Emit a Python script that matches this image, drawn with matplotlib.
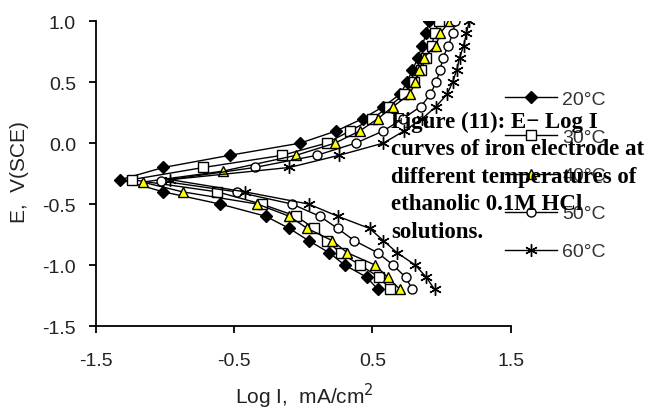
import numpy as np
import matplotlib
matplotlib.use("Agg")
import matplotlib.pyplot as plt

plt.rcParams['font.family'] = ['Liberation Sans', 'DejaVu Sans']

# potentials (V vs SCE) and log I (mA/cm2), anodic top -> Ecorr -> cathodic
e_20 = [1.0, 0.9, 0.8, 0.7, 0.6, 0.5, 0.4, 0.3, 0.2, 0.1, 0.0, -0.1, -0.2, -0.3,
        -0.4, -0.5, -0.6, -0.7, -0.8, -0.9, -1.0, -1.1, -1.2]
i_20 = [0.91, 0.89, 0.86, 0.83, 0.79, 0.75, 0.70, 0.58, 0.43, 0.24, -0.02, -0.53, -1.01, -1.32,
        -1.01, -0.60, -0.27, -0.10, 0.04, 0.19, 0.30, 0.46, 0.54]

e_30 = [1.0, 0.9, 0.8, 0.7, 0.6, 0.5, 0.4, 0.3, 0.2, 0.1, 0.0, -0.1, -0.2, -0.3,
        -0.4, -0.5, -0.6, -0.7, -0.8, -0.9, -1.0, -1.1, -1.2]
i_30 = [0.98, 0.95, 0.93, 0.89, 0.85, 0.80, 0.73, 0.62, 0.50, 0.34, 0.17, -0.15, -0.72, -1.24,
        -0.62, -0.30, -0.05, 0.08, 0.17, 0.27, 0.41, 0.55, 0.63]

e_40 = [1.0, 0.9, 0.8, 0.7, 0.6, 0.5, 0.4, 0.3, 0.2, 0.1, 0.0, -0.1, -0.23, -0.32,
        -0.4, -0.5, -0.6, -0.7, -0.8, -0.9, -1.0, -1.1, -1.2]
i_40 = [1.06, 0.99, 0.96, 0.87, 0.84, 0.81, 0.77, 0.65, 0.54, 0.41, 0.23, -0.05, -0.58, -1.16,
        -0.87, -0.33, -0.10, 0.03, 0.21, 0.32, 0.52, 0.61, 0.70]

e_50 = [1.0, 0.9, 0.8, 0.7, 0.6, 0.5, 0.4, 0.3, 0.2, 0.1, 0.0, -0.1, -0.2, -0.31,
        -0.4, -0.5, -0.6, -0.7, -0.8, -0.9, -1.0, -1.1, -1.2]
i_50 = [1.10, 1.08, 1.05, 1.01, 0.99, 0.96, 0.92, 0.85, 0.72, 0.58, 0.38, 0.10, -0.35, -1.03,
        -0.48, -0.08, 0.12, 0.25, 0.37, 0.54, 0.65, 0.74, 0.79]

e_60 = [1.0, 0.9, 0.8, 0.7, 0.6, 0.5, 0.4, 0.3, 0.2, 0.1, 0.0, -0.1, -0.2, -0.3,
        -0.4, -0.5, -0.6, -0.7, -0.8, -0.9, -1.0, -1.1, -1.2]
i_60 = [1.20, 1.18, 1.16, 1.13, 1.11, 1.08, 1.04, 0.96, 0.86, 0.73, 0.58, 0.26, -0.10, -0.96,
        -0.42, 0.04, 0.25, 0.48, 0.58, 0.68, 0.81, 0.89, 0.95]

labels = ['20°C', '30°C', '40°C', '50°C', '60°C']
caption_lines = ["Figure (11): E\u2212 Log I", "curves of iron electrode at",
                 "different temperatures of", "ethanolic 0.1M HCl", "solutions."]

fig = plt.figure(figsize=(6.59, 4.10), dpi=100)
ax = fig.add_axes([0.145, 0.2024, 0.63, 0.7436])

ax.plot(i_20, e_20, color='black', lw=1, marker='D', ms=6.5, mfc='black', mec='black', label=labels[0])
ax.plot(i_30, e_30, color='black', lw=1, marker='s', ms=7.5, mfc='white', mec='black', label=labels[1])
ax.plot(i_40, e_40, color='black', lw=1, marker='^', ms=7.5, mfc='#ffff00', mec='black', label=labels[2])
ax.plot(i_50, e_50, color='black', lw=1, marker='o', ms=6.5, mfc='white', mec='black', label=labels[3])
ax.plot(i_60, e_60, color='black', lw=1, marker=(6, 2, 0), ms=9, mec='black', label=labels[4])

ax.set_xlim(-1.5, 1.5)
ax.set_ylim(-1.5, 1.0)
ax.set_xticks([-1.5, -0.5, 0.5, 1.5])
ax.set_yticks([-1.5, -1.0, -0.5, 0.0, 0.5, 1.0])
ax.set_yticklabels(['-1.5', '-1.0', '-0.5', '0.0', '0.5', '1.0'])
ax.set_xticklabels(['-1.5', '-0.5', '0.5', '1.5'])
ax.spines['top'].set_visible(False)
ax.spines['right'].set_visible(False)
for s in ('left', 'bottom'):
    ax.spines[s].set_linewidth(1.3)
ax.tick_params(direction='out', length=5, width=1.3, labelsize=14, labelcolor='#222222')
ax.tick_params(axis='x', pad=14)
ax.tick_params(axis='y', pad=9)
ax.set_xlabel('Log I,  mA/cm$^2$', fontsize=15, color='#222222')
ax.set_ylabel('E,  V(SCE)', fontsize=15, color='#222222')
ax.xaxis.set_label_coords(0.502, -0.226, transform=ax.transAxes)
ax.yaxis.set_label_coords(-0.182, 0.508, transform=ax.transAxes)
ax.yaxis.label.set_va('center')
ax.xaxis.label.set_va('center')

leg = ax.legend(loc='upper left', bbox_to_anchor=(0.9856, 0.772), frameon=False,
                fontsize=14, labelspacing=1.05, handlelength=2.7, handletextpad=0.25,
                borderaxespad=0, borderpad=0)
for t in leg.get_texts():
    t.set_color('#333333')

# caption lines, one baseline every ~27.5 px from 128 px below the top
for k, line in enumerate(caption_lines):
    fig.text(0.593, (410 - 128 - 27.5 * k) / 410, line, fontsize=16.5, fontweight='bold',
             family='Liberation Serif', va='baseline', ha='left', zorder=10)

fig.savefig('out.png', dpi=100)
